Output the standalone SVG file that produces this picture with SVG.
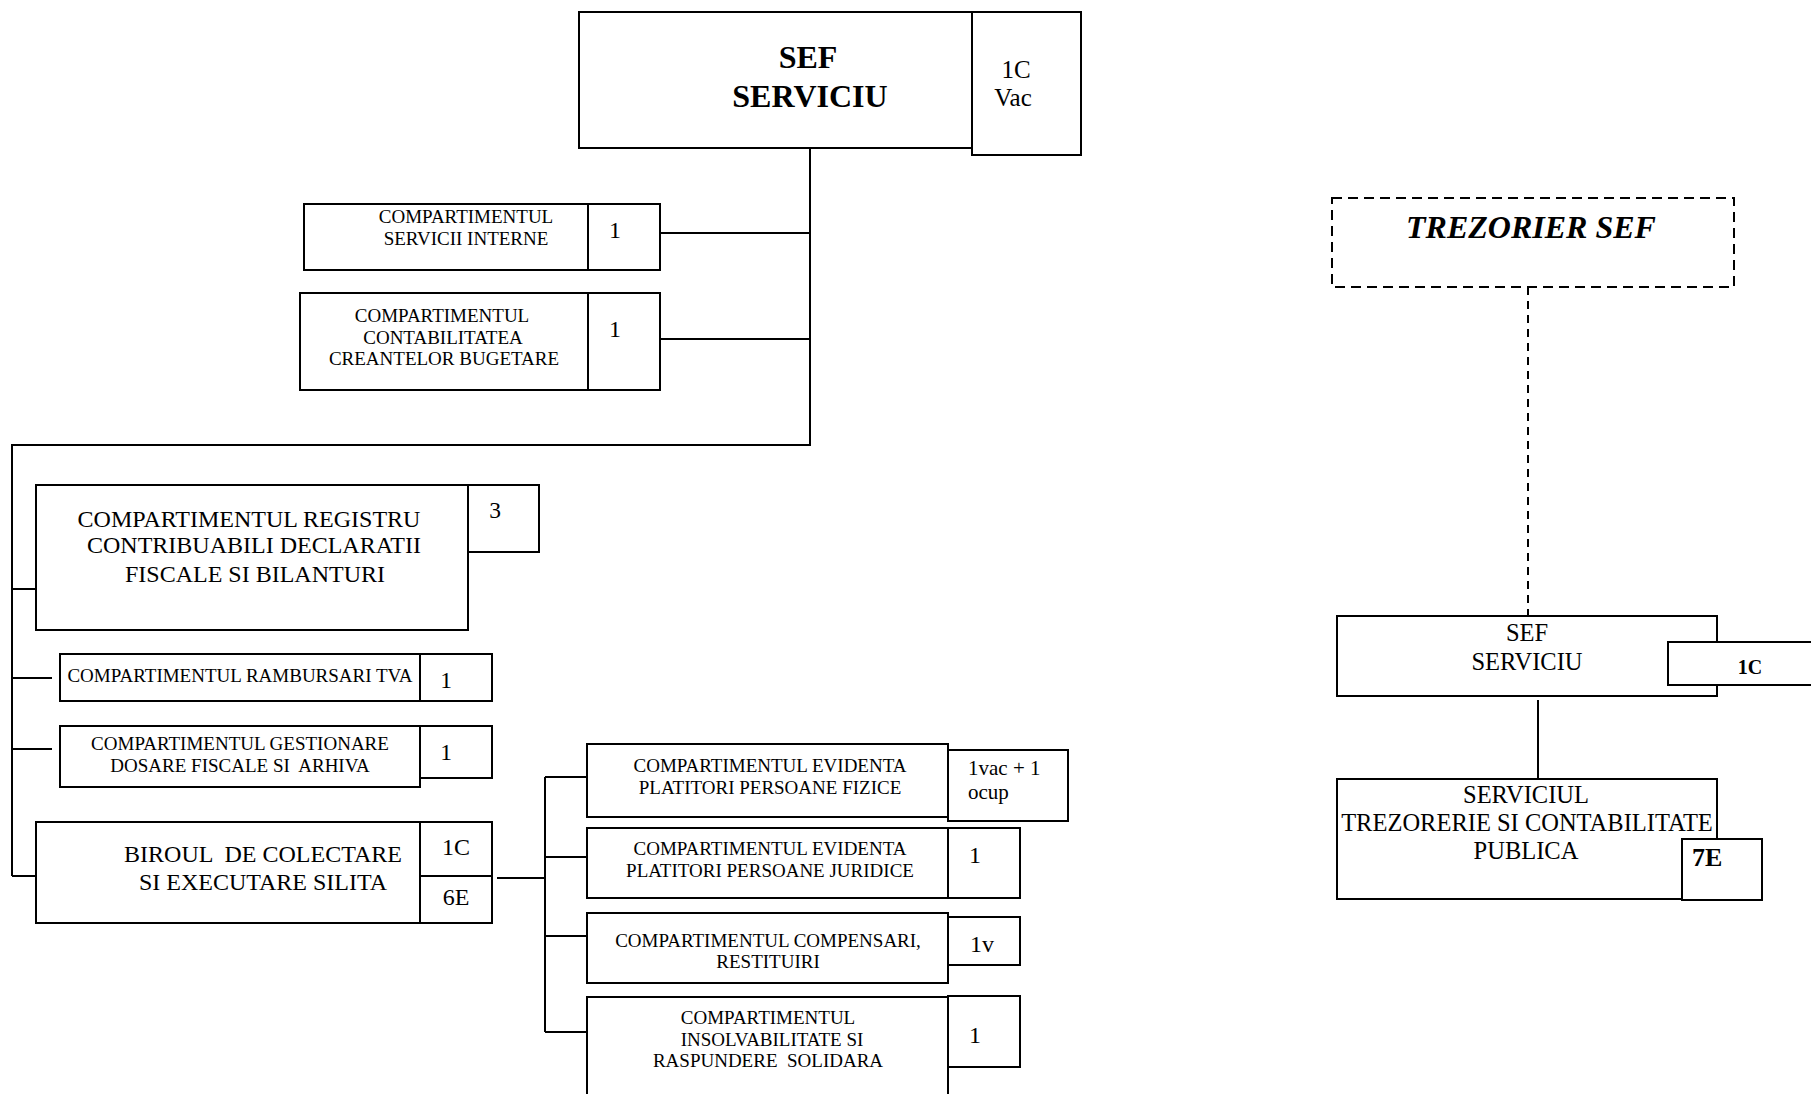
<svg xmlns="http://www.w3.org/2000/svg" width="1811" height="1094" viewBox="0 0 1811 1094">
<style>
.b{fill:#fff;stroke:#000;stroke-width:2}
.d{fill:#fff;stroke:#000;stroke-width:2;stroke-dasharray:10 6}
.c{fill:none;stroke:#000;stroke-width:2}
.cd{fill:none;stroke:#000;stroke-width:2;stroke-dasharray:8 6}
text{font-family:"Liberation Serif","Times New Roman",serif;fill:#000;white-space:pre}
.m{text-anchor:middle}
.s18{font-size:19px}
.s17{font-size:19px}
.s23{font-size:23.5px}
.s24{font-size:24px}
.r{font-size:24.5px}
</style>
<rect width="1811" height="1094" fill="#fff"/>
<g id="connectors">
<path class="c" d="M810 148V445H12V876"/>
<path class="c" d="M660 233H810M660 339H810"/>
<path class="c" d="M12 589H41M12 678H52M12 749H52M12 876H41"/>
<path class="c" d="M497 878H545M545 777V1032M545 777H587M545 857H587M545 936H587M545 1032H587"/>
<path class="cd" d="M1528 287V616"/>
<path class="c" d="M1538 700V783"/>
</g>
<g id="sef-serviciu">
<rect class="b" x="579" y="12" width="393" height="136"/>
<rect class="b" x="972" y="12" width="109" height="143"/>
<text class="m" x="808" y="68" font-size="32" font-weight="bold">SEF</text>
<text class="m" x="810" y="107" font-size="32" font-weight="bold">SERVICIU</text>
<text class="m" x="1016" y="78" font-size="25">1C</text>
<text class="m" x="1013" y="106" font-size="25">Vac</text>
</g>
<g id="servicii-interne">
<rect class="b" x="304" y="204" width="284" height="66"/>
<rect class="b" x="588" y="204" width="72" height="66"/>
<text class="m s18" x="466" y="223">COMPARTIMENTUL</text>
<text class="m s18" x="466" y="245">SERVICII INTERNE</text>
<text class="m" x="615" y="238" font-size="24">1</text>
</g>
<g id="contabilitatea">
<rect class="b" x="300" y="293" width="288" height="97"/>
<rect class="b" x="588" y="293" width="72" height="97"/>
<text class="m s18" x="442" y="322">COMPARTIMENTUL</text>
<text class="m s18" x="443" y="344">CONTABILITATEA</text>
<text class="m s18" x="444" y="365">CREANTELOR BUGETARE</text>
<text class="m" x="615" y="337" font-size="24">1</text>
</g>
<g id="registru">
<rect class="b" x="36" y="485" width="432" height="145"/>
<rect class="b" x="468" y="485" width="71" height="67"/>
<text class="m s24" x="249" y="527">COMPARTIMENTUL REGISTRU</text>
<text class="m s24" x="254" y="553">CONTRIBUABILI DECLARATII</text>
<text class="m s24" x="255" y="582">FISCALE SI BILANTURI</text>
<text class="m s23" x="495" y="518">3</text>
</g>
<g id="rambursari">
<rect class="b" x="60" y="654" width="360" height="47"/>
<rect class="b" x="420" y="654" width="72" height="47"/>
<text class="m s17" x="240" y="682">COMPARTIMENTUL RAMBURSARI TVA</text>
<text class="m s23" x="446" y="688">1</text>
</g>
<g id="gestionare">
<rect class="b" x="60" y="726" width="360" height="61"/>
<rect class="b" x="420" y="726" width="72" height="52"/>
<text class="m s17" x="240" y="750">COMPARTIMENTUL GESTIONARE</text>
<text class="m s17" x="240" y="772">DOSARE FISCALE SI  ARHIVA</text>
<text class="m s23" x="446" y="760">1</text>
</g>
<g id="birou">
<rect class="b" x="36" y="822" width="384" height="101"/>
<rect class="b" x="420" y="822" width="72" height="101"/>
<path class="c" d="M420 876H492"/>
<text class="m s24" x="263" y="862">BIROUL  DE COLECTARE</text>
<text class="m s24" x="263" y="890">SI EXECUTARE SILITA</text>
<text class="m s24" x="456" y="855">1C</text>
<text class="m s24" x="456" y="905">6E</text>
</g>
<g id="evidenta-fizice">
<rect class="b" x="587" y="744" width="361" height="73"/>
<rect class="b" x="948" y="750" width="120" height="71"/>
<text class="m s18" x="770" y="772">COMPARTIMENTUL EVIDENTA</text>
<text class="m s18" x="770" y="794">PLATITORI PERSOANE FIZICE</text>
<text x="968" y="775" font-size="21">1vac + 1</text>
<text x="968" y="799" font-size="21">ocup</text>
</g>
<g id="evidenta-juridice">
<rect class="b" x="587" y="828" width="361" height="70"/>
<rect class="b" x="948" y="828" width="72" height="70"/>
<text class="m s18" x="770" y="855">COMPARTIMENTUL EVIDENTA</text>
<text class="m s18" x="770" y="877">PLATITORI PERSOANE JURIDICE</text>
<text class="m s24" x="975" y="863">1</text>
</g>
<g id="compensari">
<rect class="b" x="587" y="913" width="361" height="70"/>
<rect class="b" x="948" y="917" width="72" height="48"/>
<text class="m s18" x="768" y="947">COMPARTIMENTUL COMPENSARI,</text>
<text class="m s18" x="768" y="968">RESTITUIRI</text>
<text class="m s24" x="982" y="952">1v</text>
</g>
<g id="insolvabilitate">
<rect class="b" x="587" y="997" width="361" height="110"/>
<rect class="b" x="948" y="996" width="72" height="71"/>
<text class="m s18" x="768" y="1024">COMPARTIMENTUL</text>
<text class="m s18" x="772" y="1046">INSOLVABILITATE SI</text>
<text class="m s18" x="768" y="1067">RASPUNDERE  SOLIDARA</text>
<text class="m s24" x="975" y="1043">1</text>
</g>
<g id="trezorier-sef">
<rect class="d" x="1332" y="198" width="402" height="89"/>
<text class="m" x="1531" y="238" font-size="32" font-weight="bold" font-style="italic">TREZORIER SEF</text>
</g>
<g id="sef-serviciu-trezorerie">
<rect class="b" x="1337" y="616" width="380" height="80"/>
<rect class="b" x="1668" y="642" width="160" height="43"/>
<text class="m r" x="1527" y="641">SEF</text>
<text class="m r" x="1527" y="670">SERVICIU</text>
<text class="m" x="1750" y="674" font-size="20" font-weight="bold">1C</text>
</g>
<g id="serviciul-trezorerie">
<rect class="b" x="1337" y="779" width="380" height="120"/>
<rect class="b" x="1682" y="839" width="80" height="61"/>
<text class="m r" x="1526" y="803">SERVICIUL</text>
<text class="m r" x="1527" y="831">TREZORERIE SI CONTABILITATE</text>
<text class="m r" x="1526" y="859">PUBLICA</text>
<text x="1692" y="866" font-size="26" font-weight="bold">7E</text>
</g>
</svg>
